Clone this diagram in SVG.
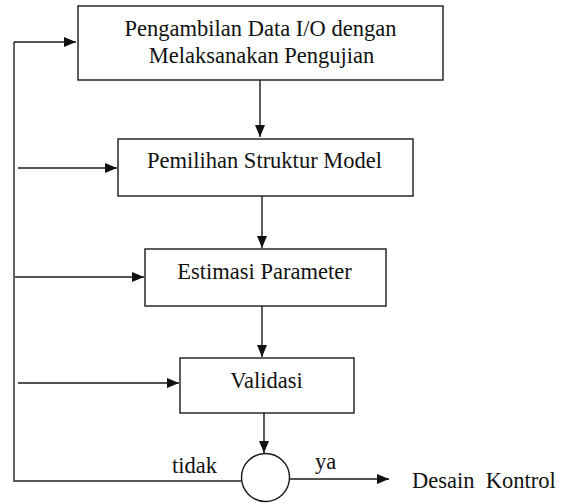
<svg xmlns="http://www.w3.org/2000/svg" width="564" height="504" viewBox="0 0 564 504">
<style>
.box{fill:#fff;stroke:#1a1a1a;stroke-width:1.4}
.ln{fill:none;stroke:#1a1a1a;stroke-width:1.4}
.gr{fill:none;stroke:#555;stroke-width:1.8}
text{font-family:'Liberation Serif','Times New Roman',serif;font-size:22.5px;fill:#111}
.c{text-anchor:middle}
</style>
<defs>
<marker id="ah" markerWidth="12" markerHeight="10" refX="12" refY="5" orient="auto" markerUnits="userSpaceOnUse">
<path d="M0,0 L12,5 L0,10 Z" fill="#111"/>
</marker>
</defs>
<g id="connectors">
<line class="ln" x1="260" y1="80" x2="260" y2="137" marker-end="url(#ah)"/>
<line class="ln" x1="262" y1="196" x2="262" y2="248" marker-end="url(#ah)"/>
<line class="ln" x1="262" y1="306" x2="262" y2="357" marker-end="url(#ah)"/>
<line class="ln" x1="264" y1="413" x2="264" y2="453" marker-end="url(#ah)"/>
<polyline class="gr" points="241,481 14,481 14,42"/>
<line class="ln" x1="14" y1="42" x2="76" y2="42" marker-end="url(#ah)"/>
<line class="ln" x1="18" y1="168" x2="117" y2="168" marker-end="url(#ah)"/>
<line class="ln" x1="15" y1="277" x2="144" y2="277" marker-end="url(#ah)"/>
<line class="ln" x1="18" y1="383" x2="179" y2="383" marker-end="url(#ah)"/>
<line class="ln" x1="289" y1="479" x2="389" y2="479" marker-end="url(#ah)"/>
</g>
<g id="node1">
<rect class="box" x="78" y="6" width="365" height="74"/>
<text class="c" x="260.5" y="36">Pengambilan Data I/O dengan</text>
<text class="c" x="261.5" y="63">Melaksanakan Pengujian</text>
</g>
<g id="node2">
<rect class="box" x="118" y="139" width="295" height="57"/>
<text class="c" x="264.5" y="168">Pemilihan Struktur Model</text>
</g>
<g id="node3">
<rect class="box" x="145" y="249" width="241" height="57"/>
<text class="c" x="264.5" y="279">Estimasi Parameter</text>
</g>
<g id="node4">
<rect class="box" x="180" y="358" width="174" height="55"/>
<text class="c" x="266.5" y="388">Validasi</text>
</g>
<g id="decision">
<circle class="box" cx="265.5" cy="477.5" r="24"/>
</g>
<g id="labels">
<text x="172" y="473">tidak</text>
<text x="315" y="469">ya</text>
<text x="412" y="488" xml:space="preserve">Desain  Kontrol</text>
</g>
</svg>
